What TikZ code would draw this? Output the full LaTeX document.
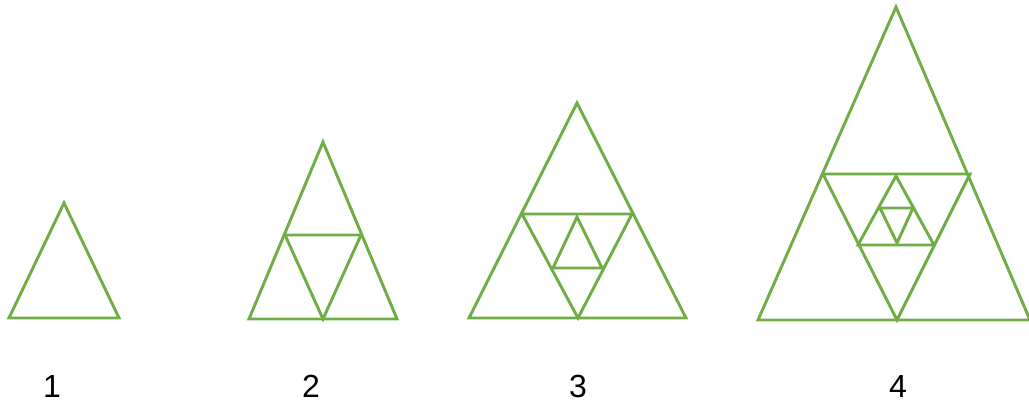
\documentclass[tikz,border=0pt]{standalone}
\usepackage{fontspec}
\setmainfont{Liberation Sans}
\usepackage{tikz}
\usetikzlibrary{positioning, calc}
\definecolor{leafgreen}{HTML}{70AD47}

\begin{document}
\begin{tikzpicture}[
  x=0.75pt, y=-0.75pt,
  tri/.style={draw=leafgreen, line width=2.2pt, line join=miter},
  steplabel/.style={inner sep=0pt, font=\fontsize{24}{28}\selectfont, text=black}
]
  \useasboundingbox (0,0) rectangle (1029,402);

  % stage 1
  \coordinate (a1) at (64,203);
  \coordinate (l1) at (9,318);
  \coordinate (r1) at (119,318);
  \draw[tri] (l1) -- (r1) -- (a1) -- cycle;

  % stage 2
  \coordinate (a2) at (323,142);
  \coordinate (l2) at (249,319);
  \coordinate (r2) at (397,319);
  \coordinate (ml2) at (285,235);
  \coordinate (mr2) at (361,235);
  \coordinate (b2) at (323,319);
  \draw[tri] (l2) -- (r2) -- (a2) -- cycle;
  \draw[tri] (ml2) -- (mr2) -- (b2) -- cycle;

  % stage 3
  \coordinate (a3) at (577,103);
  \coordinate (l3) at (469,318);
  \coordinate (r3) at (686,318);
  \coordinate (ml3) at (522,214);
  \coordinate (mr3) at (632,214);
  \coordinate (b3) at (578,318);
  \coordinate (ia3) at (577,217);
  \coordinate (il3) at (553,268);
  \coordinate (ir3) at (602,268);
  \draw[tri] (l3) -- (r3) -- (a3) -- cycle;
  \draw[tri] (ml3) -- (mr3) -- (b3) -- cycle;
  \draw[tri] (il3) -- (ir3) -- (ia3) -- cycle;

  % stage 4
  \coordinate (a4) at (896,7);
  \coordinate (l4) at (758,320);
  \coordinate (r4) at (1030,320);
  \coordinate (ml4) at (823,174);
  \coordinate (mr4) at (970,174);
  \coordinate (b4) at (897,320);
  \coordinate (ia4) at (896,176);
  \coordinate (il4) at (858,245);
  \coordinate (ir4) at (934,245);
  \coordinate (jl4) at (880,208);
  \coordinate (jr4) at (913,208);
  \coordinate (jb4) at (897,243);
  \draw[tri] (l4) -- (r4) -- (a4) -- cycle;
  \draw[tri] (ml4) -- (mr4) -- (b4) -- cycle;
  \draw[tri] (il4) -- (ir4) -- (ia4) -- cycle;
  \draw[tri] (jl4) -- (jr4) -- (jb4) -- cycle;

  % labels
  \node[steplabel] (n1) at (52,386) {1};
  \node[steplabel] (n2) at (311,386) {2};
  \node[steplabel] (n3) at (578,386) {3};
  \node[steplabel] (n4) at (898,386) {4};
\end{tikzpicture}
\end{document}
